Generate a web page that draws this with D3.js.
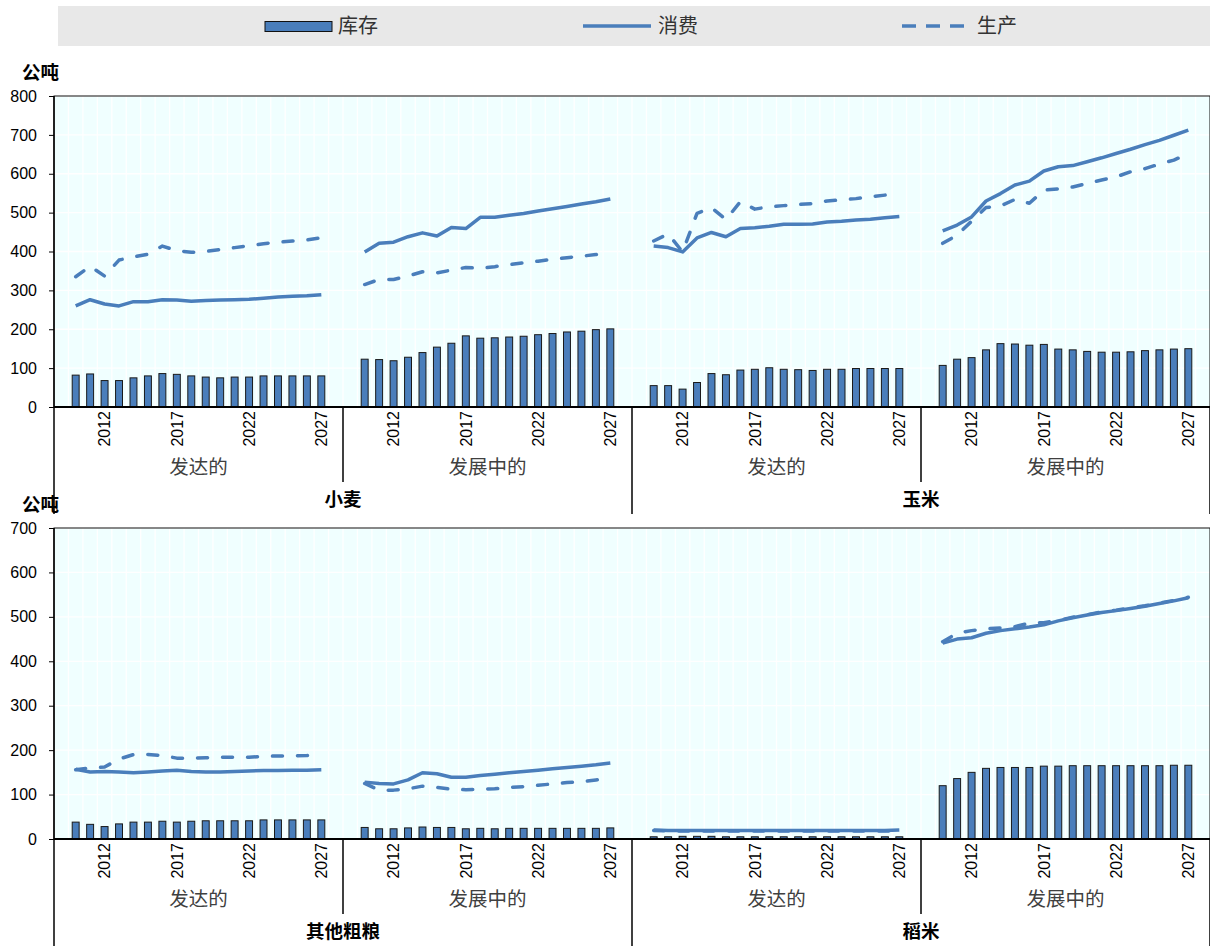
<!DOCTYPE html>
<html>
<head>
<meta charset="utf-8">
<script src="https://cdn.jsdelivr.net/npm/d3@7"></script>
<style>
  body { margin: 0; background: #fff; }
  svg { display: block; }
  text { font-family: "Liberation Sans", Arial, "Noto Sans CJK SC", sans-serif; }
</style>
</head>
<body>
<svg id="chart" width="1210" height="948"></svg>
<script>
// ---- categories & labels ----
const years = [2010, 2011, 2012, 2013, 2014, 2015, 2016, 2017, 2018, 2019, 2020, 2021, 2022, 2023, 2024, 2025, 2026, 2027];
const tickYears = [2012, 2017, 2022, 2027];
const groupLabels = ["发达的", "发展中的"];
const topCommodities = ["小麦", "玉米"];
const bottomCommodities = ["其他粗粮", "稻米"];
const topTicks = [0, 100, 200, 300, 400, 500, 600, 700, 800];
const bottomTicks = [0, 100, 200, 300, 400, 500, 600, 700];
const unitLabel = "公吨";
const legendLabels = ["库存", "消费", "生产"];

// ---- series (million tonnes) ----
// wheat
const wheatDevStocks = [82, 85, 68, 68, 75, 80, 86, 84, 80, 77, 75, 77, 77, 80, 80, 80, 80, 80];
const wheatDevCons   = [260, 276, 265, 260, 271, 271, 276, 275, 272, 274, 275, 276, 277, 280, 283, 285, 286, 289];
const wheatDevProd   = [335, 362, 337, 378, 386, 393, 414, 402, 398, 400, 405, 410, 415, 420, 424, 427, 430, 435];
const wheatDvgStocks = [123, 122, 119, 128, 140, 154, 164, 183, 177, 178, 180, 182, 186, 189, 193, 195, 199, 201];
const wheatDvgCons   = [399, 421, 424, 438, 448, 440, 462, 459, 488, 488, 493, 498, 504, 510, 516, 522, 528, 535];
const wheatDvgProd   = [315, 328, 328, 337, 348, 345, 352, 359, 357, 361, 366, 371, 375, 380, 384, 388, 392, 397];
// maize
const maizeDevStocks = [55, 55, 46, 63, 86, 83, 95, 97, 101, 97, 96, 94, 97, 97, 99, 99, 99, 99];
const maizeDevCons   = [414, 410, 399, 435, 449, 438, 459, 461, 465, 470, 470, 471, 476, 478, 481, 483, 487, 490];
const maizeDevProd   = [427, 445, 399, 498, 513, 482, 528, 509, 515, 518, 521, 523, 530, 533, 536, 541, 545, 549];
const maizeDvgStocks = [107, 123, 127, 147, 163, 162, 159, 161, 149, 147, 143, 141, 141, 142, 145, 147, 149, 150];
const maizeDvgCons   = [453, 468, 489, 530, 549, 571, 581, 607, 618, 621, 631, 641, 652, 663, 675, 686, 699, 712];
const maizeDvgProd   = [421, 442, 478, 513, 517, 534, 524, 558, 561, 566, 575, 584, 592, 605, 613, 625, 635, 652];
// other coarse grains
const coarseDevStocks = [38, 33, 28, 34, 38, 38, 40, 38, 40, 41, 41, 41, 41, 43, 43, 43, 43, 43];
const coarseDevCons   = [157, 151, 152, 151, 149, 151, 153, 155, 152, 151, 151, 152, 153, 154, 154, 155, 155, 156];
const coarseDevProd   = [156, 160, 162, 180, 190, 190, 188, 182, 182, 183, 184, 184, 184, 186, 187, 187, 188, 190];
const coarseDvgStocks = [26, 23, 23, 25, 27, 26, 26, 23, 24, 23, 24, 24, 24, 24, 24, 24, 24, 25];
const coarseDvgCons   = [128, 125, 124, 133, 149, 147, 139, 139, 143, 146, 149, 152, 155, 158, 161, 164, 167, 171];
const coarseDvgProd   = [125, 110, 110, 113, 119, 116, 112, 111, 112, 113, 116, 118, 121, 124, 127, 129, 133, 137];
// rice
const riceDevStocks = [5, 5, 6, 6, 6, 5, 5, 5, 5, 5, 5, 5, 5, 5, 5, 5, 5, 5];
const riceDevCons   = [20, 19, 19, 19, 19, 19, 19, 19, 19, 19, 19, 19, 19, 19, 19, 19, 19, 20];
const riceDevProd   = [19, 18, 18, 18, 18, 18, 18, 18, 18, 18, 18, 18, 18, 18, 18, 18, 18, 19];
const riceDvgStocks = [120, 136, 150, 159, 161, 161, 161, 164, 164, 165, 165, 165, 165, 165, 165, 165, 166, 166];
const riceDvgCons   = [441, 450, 453, 463, 469, 473, 477, 482, 491, 498, 504, 510, 514, 519, 524, 530, 536, 543];
const riceDvgProd   = [444, 463, 469, 473, 475, 478, 486, 487, 492, 499, 505, 511, 515, 520, 525, 531, 537, 544];

const topGroups = [
  { stocks: wheatDevStocks, cons: wheatDevCons, prod: wheatDevProd },
  { stocks: wheatDvgStocks, cons: wheatDvgCons, prod: wheatDvgProd },
  { stocks: maizeDevStocks, cons: maizeDevCons, prod: maizeDevProd },
  { stocks: maizeDvgStocks, cons: maizeDvgCons, prod: maizeDvgProd }
];
const bottomGroups = [
  { stocks: coarseDevStocks, cons: coarseDevCons, prod: coarseDevProd },
  { stocks: coarseDvgStocks, cons: coarseDvgCons, prod: coarseDvgProd },
  { stocks: riceDevStocks, cons: riceDevCons, prod: riceDevProd },
  { stocks: riceDvgStocks, cons: riceDvgCons, prod: riceDvgProd }
];

// ---- styling ----
const BLUE = "#4a7ebb";
const PLOT_BG = "#f0ffff";
const DASH = "10,15";

const svg = d3.select("#chart");
const left = 54, right = 1210;

// band domain: an empty slot on each side of every 18-year group
const keys = [];
for (let g = 0; g < 4; g++) {
  keys.push(g + "-pre");
  years.forEach(y => keys.push(g + "-" + y));
  keys.push(g + "-post");
}
const x = d3.scaleBand().domain(keys).range([left, right]).paddingInner(0.52).paddingOuter(0.26);
const step = x.step();
const bw = x.bandwidth();
const cx = k => x(k) + bw / 2;

// ---- legend ----
const lg = svg.append("g");
lg.append("rect").attr("x", 58).attr("y", 6).attr("width", 1152).attr("height", 40).attr("fill", "#e8e8e8");
lg.append("rect").attr("x", 265).attr("y", 21.5).attr("width", 67).attr("height", 10)
  .attr("fill", BLUE).attr("stroke", "#111").attr("stroke-width", 1);
lg.append("text").attr("x", 338).attr("y", 33).attr("font-size", 20).attr("fill", "#333").text(legendLabels[0]);
lg.append("line").attr("x1", 583).attr("x2", 651).attr("y1", 26).attr("y2", 26)
  .attr("stroke", BLUE).attr("stroke-width", 3.5);
lg.append("text").attr("x", 658).attr("y", 33).attr("font-size", 20).attr("fill", "#333").text(legendLabels[1]);
lg.append("line").attr("x1", 902).attr("x2", 970).attr("y1", 26).attr("y2", 26)
  .attr("stroke", BLUE).attr("stroke-width", 3.5).attr("stroke-dasharray", "14,10");
lg.append("text").attr("x", 977).attr("y", 33).attr("font-size", 20).attr("fill", "#333").text(legendLabels[2]);

// ---- one panel ----
function drawPanel(opts) {
  const { top, bottom, max, ticks, groups, commodities, unitY } = opts;
  const y = d3.scaleLinear().domain([0, max]).range([bottom, top]);
  const g = svg.append("g");

  g.append("rect").attr("x", left).attr("y", top).attr("width", right - left).attr("height", bottom - top)
    .attr("fill", PLOT_BG);

  // gridlines
  g.append("g").selectAll("line").data(ticks.slice(1)).join("line")
    .attr("x1", left).attr("x2", right).attr("y1", d => y(d)).attr("y2", d => y(d))
    .attr("stroke", "#fff").attr("stroke-width", 1.3);
  g.append("g").selectAll("line").data(d3.range(1, keys.length)).join("line")
    .attr("x1", i => left + i * step).attr("x2", i => left + i * step)
    .attr("y1", top).attr("y2", bottom)
    .attr("stroke", "#fff").attr("stroke-width", 1.3);

  // bars and lines
  groups.forEach((grp, gi) => {
    const k = years.map(yr => gi + "-" + yr);
    g.append("g").selectAll("rect").data(grp.stocks).join("rect")
      .attr("x", (d, i) => x(k[i])).attr("width", bw)
      .attr("y", d => y(d)).attr("height", d => y(0) - y(d))
      .attr("fill", BLUE).attr("stroke", "#1a1a1a").attr("stroke-width", 1);
    const line = d3.line().x((d, i) => cx(k[i])).y(d => y(d));
    g.append("path").datum(grp.prod).attr("d", line).attr("fill", "none")
      .attr("stroke", BLUE).attr("stroke-width", 3.5).attr("stroke-linecap", "round")
      .attr("stroke-linejoin", "round").attr("stroke-dasharray", DASH);
    g.append("path").datum(grp.cons).attr("d", line).attr("fill", "none")
      .attr("stroke", BLUE).attr("stroke-width", 3.5).attr("stroke-linejoin", "round");
  });

  // frame
  g.append("rect").attr("x", left).attr("y", top).attr("width", right - left).attr("height", bottom - top)
    .attr("fill", "none").attr("stroke", "#111").attr("stroke-width", 1);
  g.append("line").attr("x1", left).attr("x2", right).attr("y1", bottom).attr("y2", bottom)
    .attr("stroke", "#000").attr("stroke-width", 2);
  g.append("line").attr("x1", left).attr("x2", left).attr("y1", top).attr("y2", bottom)
    .attr("stroke", "#000").attr("stroke-width", 1.5);

  // y axis
  const yAxis = d3.axisLeft(y).tickValues(ticks).tickSize(5).tickPadding(12).tickFormat(d3.format("d"));
  const ya = g.append("g").attr("transform", `translate(${left},0)`).call(yAxis);
  ya.select(".domain").remove();
  ya.selectAll("line").attr("stroke", "#000");
  ya.selectAll("text").attr("font-size", 16).attr("fill", "#000")
    .attr("font-family", "'Liberation Sans', Arial, sans-serif");

  // x axis year labels
  const xAxis = d3.axisBottom(x)
    .tickValues(d3.merge([0, 1, 2, 3].map(gi => tickYears.map(yr => gi + "-" + yr))))
    .tickSize(0).tickFormat(k => k.split("-")[1]);
  const xa = g.append("g").attr("transform", `translate(0,${bottom})`).call(xAxis);
  xa.select(".domain").remove();
  xa.selectAll("text")
    .attr("transform", "rotate(-90)")
    .attr("x", -4).attr("y", 0).attr("dy", "0.36em")
    .attr("text-anchor", "end").attr("font-size", 16).attr("fill", "#000")
    .attr("font-family", "'Liberation Sans', Arial, sans-serif");

  // group separators and labels
  const groupW = step * 20;
  [0, 1, 2, 3, 4].forEach(i => {
    const xx = left + i * groupW;
    const long = i % 2 === 0;
    g.append("line").attr("x1", xx).attr("x2", xx).attr("y1", bottom).attr("y2", bottom + (long ? 107 : 75))
      .attr("stroke", "#000").attr("stroke-width", 1.5);
  });
  [0, 1, 2, 3].forEach(i => {
    g.append("text").attr("x", left + (i + 0.5) * groupW).attr("y", bottom + 67)
      .attr("text-anchor", "middle").attr("font-size", 19.5).attr("fill", "#404040")
      .text(groupLabels[i % 2]);
  });
  commodities.forEach((c, i) => {
    g.append("text").attr("x", left + (i + 0.5) * groupW * 2).attr("y", bottom + 99)
      .attr("text-anchor", "middle").attr("font-size", 18.5).attr("font-weight", "bold").attr("fill", "#000")
      .text(c);
  });

  // unit label
  svg.append("text").attr("x", 22).attr("y", unitY).attr("font-size", 18.5).attr("font-weight", "bold")
    .attr("fill", "#000").text(unitLabel);
}

drawPanel({ top: 96, bottom: 407, max: 800, ticks: topTicks, groups: topGroups, commodities: topCommodities, unitY: 79 });
drawPanel({ top: 528, bottom: 839, max: 700, ticks: bottomTicks, groups: bottomGroups, commodities: bottomCommodities, unitY: 511 });
</script>
</body>
</html>
